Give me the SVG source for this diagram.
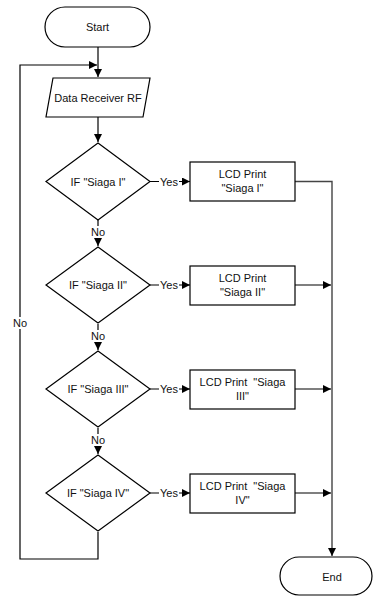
<svg xmlns="http://www.w3.org/2000/svg" width="374" height="596" viewBox="0 0 374 596">
<defs>
<marker id="ah" viewBox="0 0 10 10" refX="10" refY="5" markerUnits="userSpaceOnUse" markerWidth="9" markerHeight="8" orient="auto">
<path d="M0,0 L10,5 L0,10 z" fill="#000"/>
</marker>
</defs>
<style>
.shape{fill:#fff;stroke:#000;stroke-width:1.2}
.con{fill:none;stroke:#000;stroke-width:1.2}
.side{fill:none;stroke:#444;stroke-width:1.4}
text{font-family:"Liberation Sans",Arial,sans-serif;font-size:11px;fill:#111;text-anchor:middle;dominant-baseline:central}
.lbl{fill:#fff;stroke:none}
</style>
<rect width="374" height="596" fill="#fff"/>
<g id="connectors">
<path class="con" d="M98,47 V77" marker-end="url(#ah)"/>
<path class="con" d="M98,117 V142" marker-end="url(#ah)"/>
<path class="con" d="M150,181.5 H190" marker-end="url(#ah)"/>
<path class="con" d="M150,285 H190" marker-end="url(#ah)"/>
<path class="con" d="M150,389 H190" marker-end="url(#ah)"/>
<path class="con" d="M150,493 H190" marker-end="url(#ah)"/>
<path class="con" d="M98,220 V246" marker-end="url(#ah)"/>
<path class="con" d="M98,324 V350" marker-end="url(#ah)"/>
<path class="con" d="M98,428 V454" marker-end="url(#ah)"/>
<path class="con" d="M98,532 V559 H20 V65 H97" marker-end="url(#ah)"/>
<path class="side" d="M295,181.5 H332 V556" marker-end="url(#ah)"/>
<path class="con" d="M295,285 H331" marker-end="url(#ah)"/>
<path class="con" d="M295,389 H331" marker-end="url(#ah)"/>
<path class="con" d="M295,493 H331" marker-end="url(#ah)"/>
<rect class="lbl" x="159" y="175" width="20" height="13"/>
<text x="169" y="181.5">Yes</text>
<rect class="lbl" x="159" y="278.5" width="20" height="13"/>
<text x="169" y="285">Yes</text>
<rect class="lbl" x="159" y="382.5" width="20" height="13"/>
<text x="169" y="389">Yes</text>
<rect class="lbl" x="159" y="486.5" width="20" height="13"/>
<text x="169" y="493">Yes</text>
<rect class="lbl" x="90" y="226" width="16" height="12"/>
<text x="98" y="232">No</text>
<rect class="lbl" x="90" y="330" width="16" height="12"/>
<text x="98" y="336">No</text>
<rect class="lbl" x="90" y="434" width="16" height="12"/>
<text x="98" y="440">No</text>
<rect class="lbl" x="12" y="317" width="16" height="12"/>
<text x="20" y="323">No</text>
</g>
<g id="start">
<rect class="shape" x="45" y="7" width="105" height="40" rx="20" ry="20"/>
<text x="97.5" y="27">Start</text>
</g>
<g id="data-receiver">
<polygon class="shape" points="53,78 150,78 143,117 46,117"/>
<text x="98" y="97.5">Data Receiver RF</text>
</g>
<g id="if1">
<polygon class="shape" points="98,143 150,181.5 98,220 46,181.5"/>
<text x="98" y="181.5">IF "Siaga I"</text>
</g>
<g id="lcd1">
<rect class="shape" x="190" y="162" width="105" height="39"/>
<text x="242.5" y="174">LCD Print</text>
<text x="242.5" y="188">"Siaga I"</text>
</g>
<g id="if2">
<polygon class="shape" points="98,247 150,285 98,323 46,285"/>
<text x="98" y="285">IF "Siaga II"</text>
</g>
<g id="lcd2">
<rect class="shape" x="190" y="266" width="105" height="39"/>
<text x="242.5" y="278">LCD Print</text>
<text x="242.5" y="292">"Siaga II"</text>
</g>
<g id="if3">
<polygon class="shape" points="98,351 150,389 98,427 46,389"/>
<text x="98" y="389">IF "Siaga III"</text>
</g>
<g id="lcd3">
<rect class="shape" x="190" y="370" width="105" height="39"/>
<text x="242.5" y="382" xml:space="preserve">LCD Print  "Siaga</text>
<text x="242.5" y="396">III"</text>
</g>
<g id="if4">
<polygon class="shape" points="98,455 150,493 98,531 46,493"/>
<text x="98" y="493">IF "Siaga IV"</text>
</g>
<g id="lcd4">
<rect class="shape" x="190" y="474" width="105" height="39"/>
<text x="242.5" y="486" xml:space="preserve">LCD Print  "Siaga</text>
<text x="242.5" y="500">IV"</text>
</g>
<g id="end">
<rect class="shape" x="280" y="557" width="92" height="38" rx="19" ry="19"/>
<text x="332" y="577">End</text>
</g>
</svg>
